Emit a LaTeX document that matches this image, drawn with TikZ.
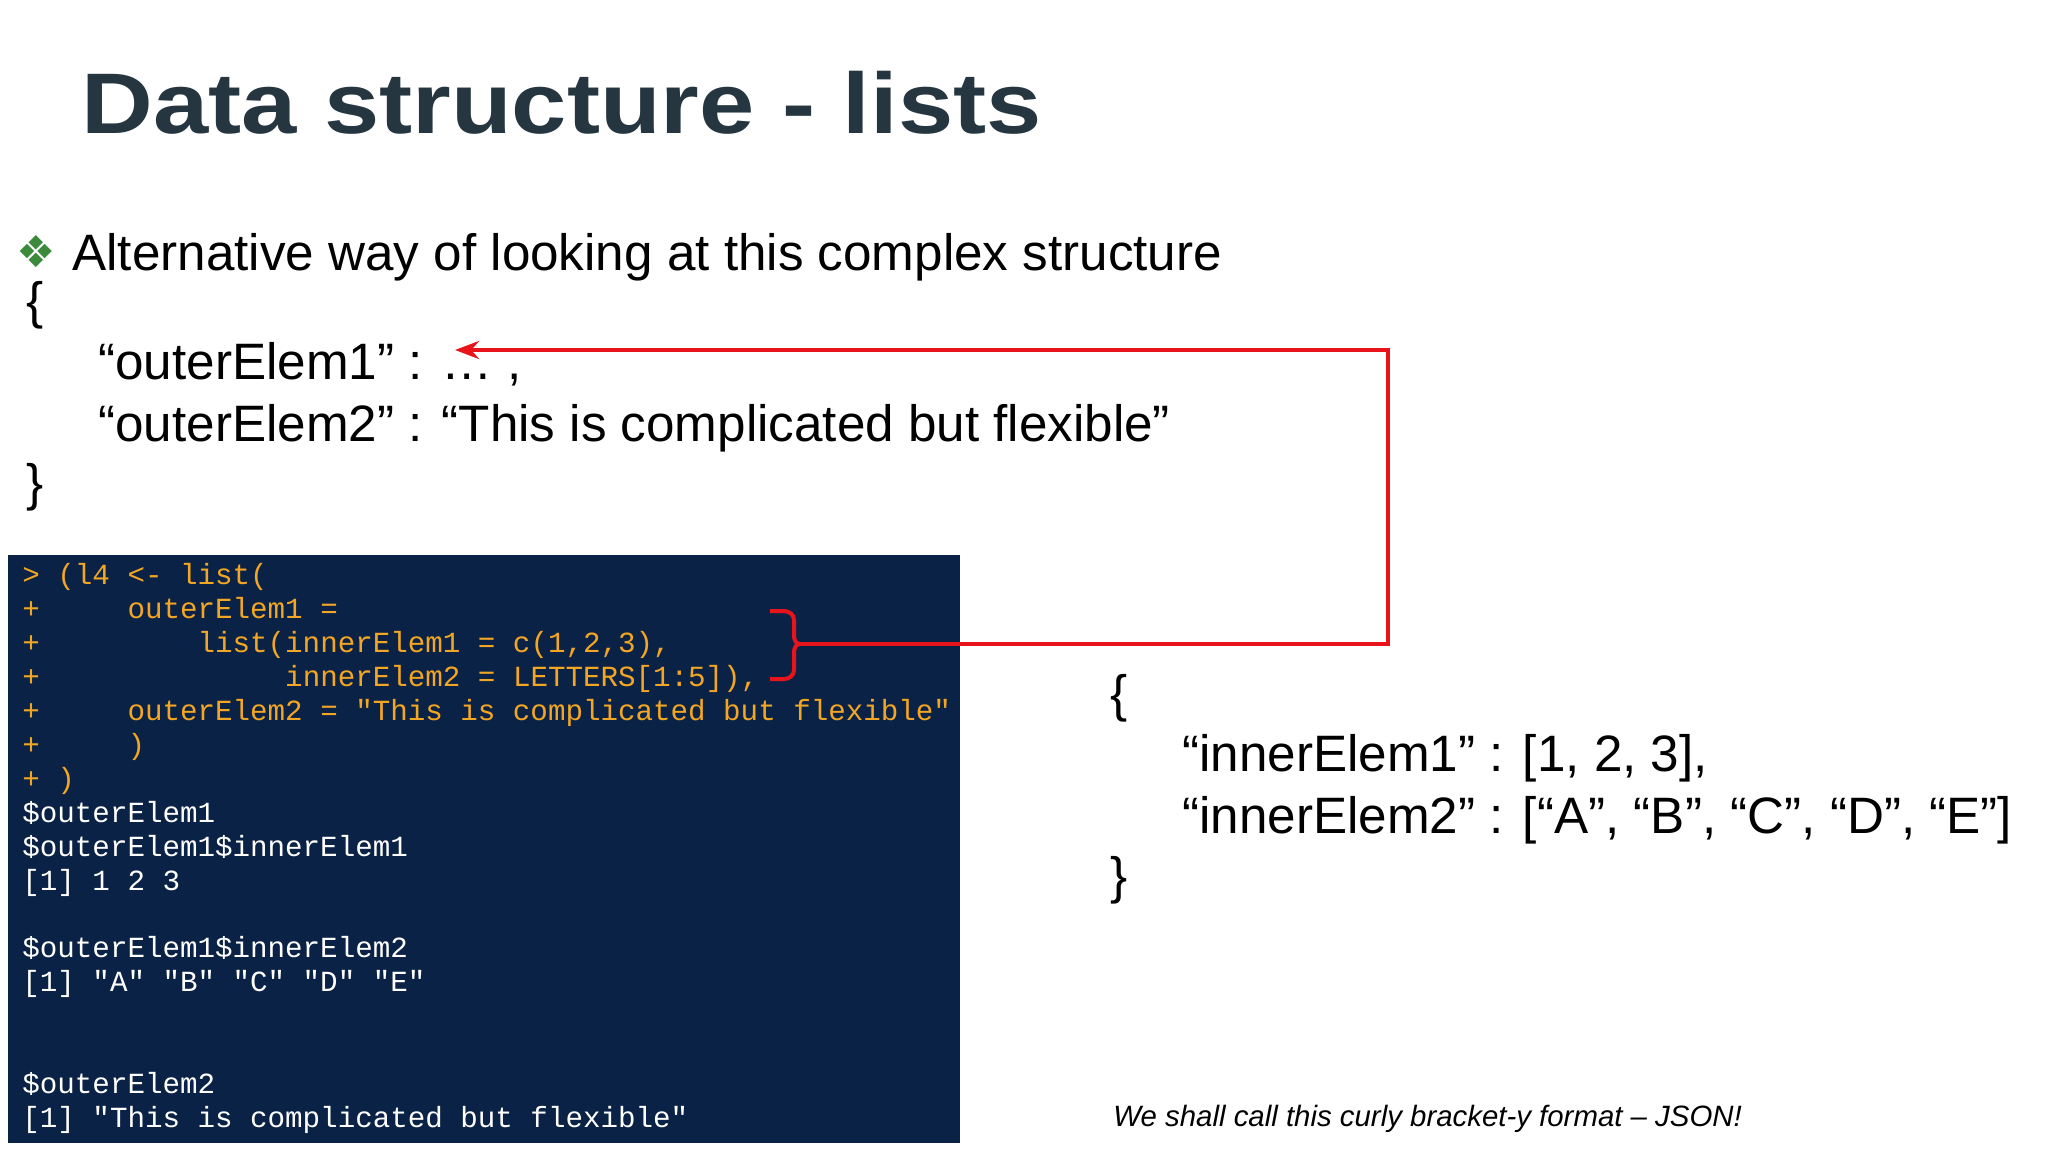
\documentclass[tikz,border=0pt]{standalone}
\usepackage{fontspec}
\setmainfont{Liberation Sans}
\setmonofont{Liberation Mono}
\newfontfamily\djv{DejaVu Sans}
\usetikzlibrary{arrows.meta}
\definecolor{titlec}{HTML}{253640}
\definecolor{codebg}{HTML}{0A2245}
\definecolor{codeor}{HTML}{F2A623}
\definecolor{bulg}{HTML}{3C8A3C}
\definecolor{redl}{HTML}{E8141C}
\tikzset{
 txt/.style={anchor=base west,inner sep=0pt,font=\fontsize{25.6}{30}\selectfont},
 cd/.style={anchor=base west,inner sep=0pt,font=\ttfamily\fontsize{14.6}{17}\selectfont},
 co/.style={cd,text=codeor},
 cw/.style={cd,text=white},
 red/.style={draw=redl,line width=2pt}
}
\begin{document}
\begin{tikzpicture}[x=0.5pt,y=-0.5pt]
\useasboundingbox (0,0) rectangle (2048,1152);
\node[anchor=base west,inner sep=0pt,text=titlec,font=\bfseries\fontsize{43}{48}\selectfont] (title) at (81,133) {\scalebox{1.155}[1]{Data structure - lists}};
\node[anchor=base west,inner sep=0pt,text=bulg,font=\djv\fontsize{22}{26}\selectfont] (bul) at (16,267) {❖};
\node[txt] (alt) at (72,270) {Alternative way of looking at this complex structure};
\node[txt] (ob1) at (26,318) {\{};
\node[txt] (o1) at (98,379) {“outerElem1” : … ,};
\node[txt] (o2) at (98,441) {“outerElem2” : “This is complicated but flexible”};
\node[txt] (cb1) at (26,500) {\}};
\node[txt] (ob2) at (1110,711) {\{};
\node[txt] (i1) at (1182,771) {“innerElem1” : [1, 2, 3],};
\node[txt] (i2) at (1182,833) {“innerElem2” : [“A”, “B”, “C”, “D”, “E”]};
\node[txt] (cb2) at (1110,893) {\}};
\node[anchor=base west,inner sep=0pt,font=\itshape\fontsize{14.7}{17}\selectfont] (foot) at (1113,1126) {We shall call this curly bracket-y format – JSON!};
% code
\fill[codebg] (8,555) rectangle (960,1143);
\node[co] (c0) at (22,584) {> (l4 <- list(};
\node[co] (c1) at (22,618) {+~~~~~outerElem1 =};
\node[co] (c2) at (22,652) {+~~~~~~~~~list(innerElem1 = c(1,2,3),};
\node[co] (c3) at (22,686) {+~~~~~~~~~~~~~~innerElem2 = LETTERS[1:5]),};
\node[co] (c4) at (22,720) {+~~~~~outerElem2 = "This is complicated but flexible"};
\node[co] (c5) at (22,754) {+~~~~~)};
\node[co] (c6) at (22,788) {+ )};
\node[cw] (c7) at (22,822) {\$outerElem1};
\node[cw] (c8) at (22,856) {\$outerElem1\$innerElem1};
\node[cw] (c9) at (22,890) {[1] 1 2 3};
\node[cw] (c11) at (22,957) {\$outerElem1\$innerElem2};
\node[cw] (c12) at (22,991) {[1] "A" "B" "C" "D" "E"};
\node[cw] (c15) at (22,1093) {\$outerElem2};
\node[cw] (c16) at (22,1127) {[1] "This is complicated but flexible"};
% brace and connector
\coordinate (tip) at (800,644);
\coordinate (corner1) at (1388,644);
\coordinate (corner2) at (1388,350);
\coordinate (target) at (455,350);
\draw[red] (770,611) -- (784,611) to[out=0,in=90] (794,620) -- (794,636) to[out=-90,in=180] (tip);
\draw[red] (tip) to[out=180,in=90] (794,652) -- (794,670) to[out=-90,in=0] (784,679) -- (770,679);
\draw[red,-{Stealth[length=12pt,width=9pt]}] (tip) -- (corner1) -- (corner2) -- (target);
\end{tikzpicture}
\end{document}
